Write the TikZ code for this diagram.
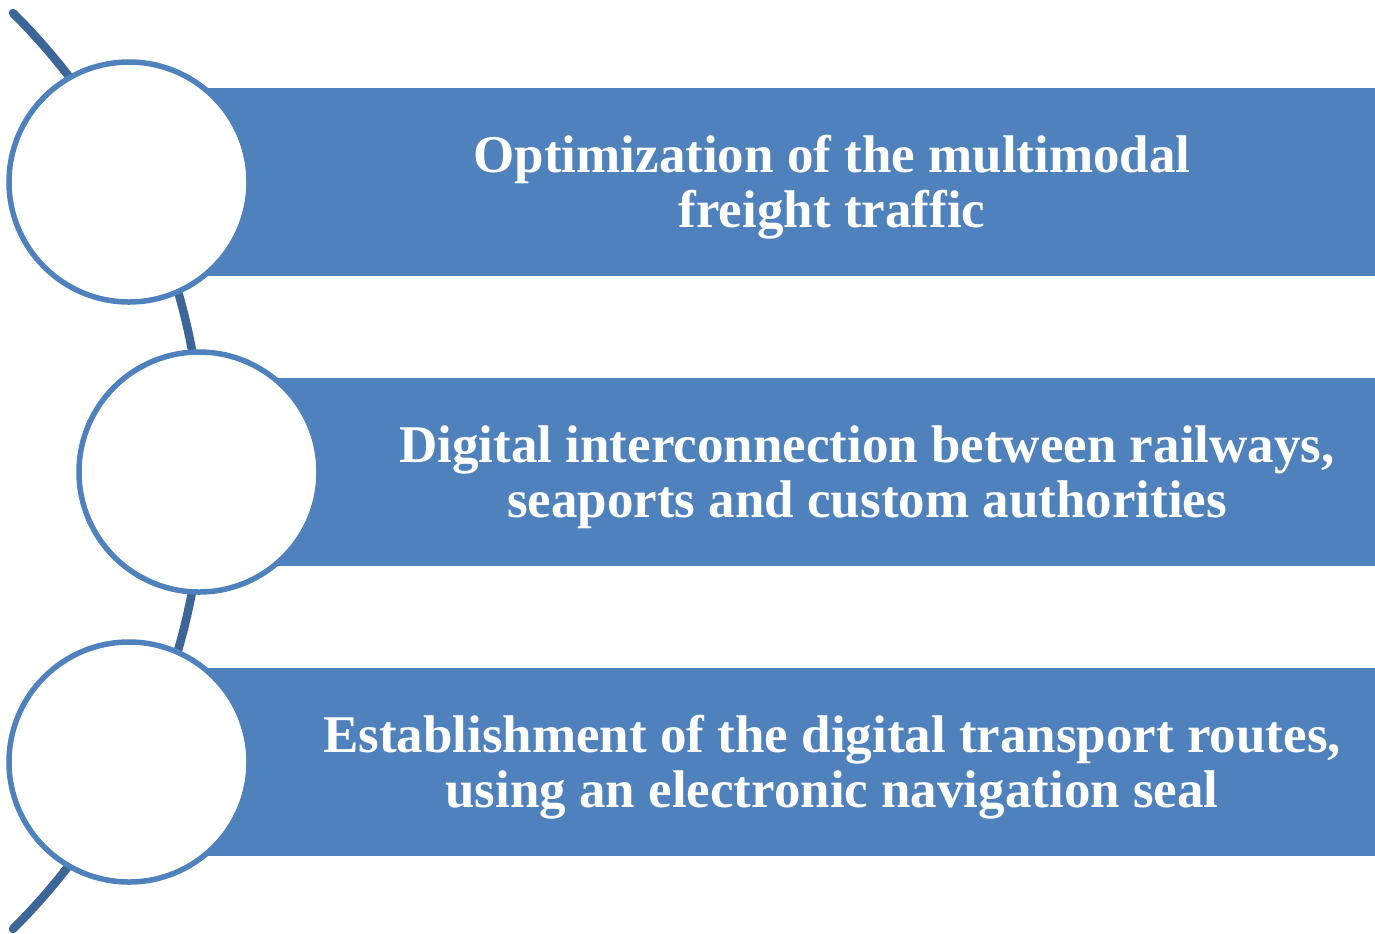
\documentclass[tikz,border=0pt]{standalone}
\usepackage{fontspec}
\setmainfont{Liberation Serif}
\definecolor{barblue}{HTML}{4F81BD}
\definecolor{spineblue}{HTML}{3D6698}
\tikzset{
  bar/.style={fill=barblue,draw=none,inner sep=0pt,minimum height=94pt,anchor=west},
  ring/.style={circle,draw=barblue,line width=2.75pt,fill=white,inner sep=0pt,minimum size=120pt},
  bartext/.style={text=white,align=center,font=\fontsize{26.5}{27.5}\selectfont\bfseries}
}
\begin{document}
\begin{tikzpicture}[x=0.5pt,y=-0.5pt]
  \useasboundingbox (0,0) rectangle (1375,933);

  % spine behind the rings
  \draw[spineblue,line width=4.25pt,line cap=round] (13,13) arc[start angle=-45.16,end angle=45.16,radius=645.9];

  % bars and rings
  \foreach \i/\x/\y in {1/129/182, 2/199/472, 3/129/762} {
    \node[bar,minimum width={(1375-\x)*0.5pt}] (bar\i) at (\x,\y) {};
    \node[ring] (ring\i) at (\x,\y) {};
  }

  \node[bartext] (txt1) at (832,187) {Optimization of the multimodal\\freight traffic};
  \node[bartext] (txt2) at (867,477) {Digital interconnection between railways,\\seaports and custom authorities};
  \node[bartext] (txt3) at (832,767) {Establishment of the digital transport routes,\\using an electronic navigation seal};
\end{tikzpicture}
\end{document}
